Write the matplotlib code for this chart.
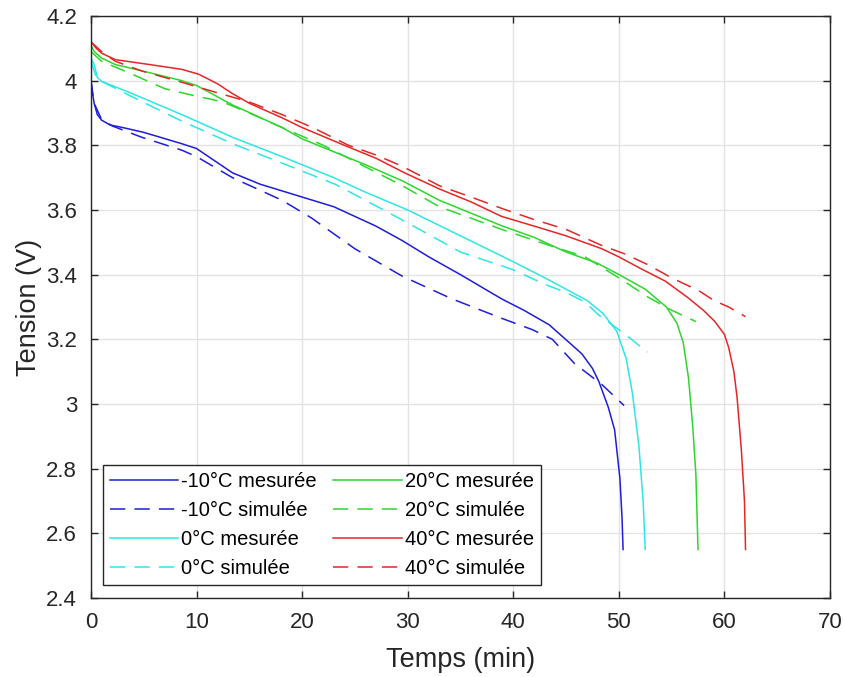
import matplotlib
matplotlib.use("Agg")
import matplotlib.pyplot as plt

plt.rcParams['font.family'] = ['Liberation Sans', 'DejaVu Sans']

# -10°C
t_m10_mes = [0, 0.1, 0.3, 0.6, 1, 1.8, 3, 5, 8.6, 10, 13.4, 16, 18, 20, 23, 25, 27,
             29.5, 32, 35, 38.9, 41, 43.4, 45.3, 46.5, 47.5, 48.1, 49, 49.6, 50.1, 50.3, 50.4]
v_m10_mes = [4.0, 3.97, 3.93, 3.895, 3.878, 3.863, 3.855, 3.84, 3.805, 3.79, 3.715, 3.68, 3.66,
             3.64, 3.61, 3.58, 3.55, 3.505, 3.455, 3.40, 3.325, 3.29, 3.245, 3.19, 3.155,
             3.11, 3.07, 2.99, 2.92, 2.77, 2.65, 2.55]
t_m10_sim = [0, 0.3, 1, 2, 4.8, 8.6, 10, 13.4, 18.1, 20.9, 25, 29.5, 34.2, 38.9, 41.8,
             43.7, 45.8, 48.4, 50.5]
v_m10_sim = [4.0, 3.93, 3.88, 3.86, 3.825, 3.785, 3.765, 3.70, 3.63, 3.575, 3.48, 3.395,
             3.325, 3.265, 3.23, 3.20, 3.125, 3.06, 2.995]

# 0°C
t_0_mes = [0, 0.3, 0.6, 1, 3.9, 8.6, 13.4, 18.1, 20, 23, 26, 30, 35, 40, 43, 45, 47, 48.5,
           49.8, 50.7, 51.3, 51.9, 52.3, 52.5]
v_0_mes = [4.07, 4.05, 4.01, 3.998, 3.96, 3.895, 3.825, 3.765, 3.74, 3.70, 3.655, 3.60, 3.52,
           3.44, 3.39, 3.355, 3.32, 3.28, 3.225, 3.14, 3.03, 2.87, 2.70, 2.55]
t_0_sim = [0, 0.5, 1, 3.9, 8.6, 13.4, 18.1, 23.1, 26, 30, 35, 40, 43, 45, 46.8, 48.1, 50,
           51.2, 52.7]
v_0_sim = [4.06, 4.01, 3.998, 3.95, 3.875, 3.805, 3.745, 3.68, 3.63, 3.56, 3.47, 3.415, 3.37,
           3.345, 3.315, 3.275, 3.23, 3.20, 3.16]

# 20°C
t_20_mes = [0, 0.3, 1, 2.3, 5.5, 8.6, 10, 13.4, 18.1, 20, 23, 26, 29.5, 33, 36, 39, 42, 45,
            48, 50.3, 52.5, 54.5, 55.5, 56.1, 56.6, 57.0, 57.3, 57.5]
v_20_mes = [4.11, 4.09, 4.07, 4.05, 4.025, 4.0, 3.985, 3.925, 3.855, 3.82, 3.78, 3.74, 3.69,
            3.63, 3.59, 3.55, 3.515, 3.47, 3.435, 3.395, 3.355, 3.30, 3.25, 3.19, 3.08,
            2.93, 2.78, 2.55]
t_20_sim = [0, 1, 3.9, 7, 9.6, 12.4, 15, 18.1, 22, 25, 29.5, 33, 38.9, 43, 46.8, 50, 52.8,
            55, 57.3]
v_20_sim = [4.09, 4.06, 4.02, 3.975, 3.955, 3.935, 3.90, 3.855, 3.80, 3.75, 3.675, 3.61,
            3.54, 3.495, 3.455, 3.39, 3.33, 3.29, 3.255]

# 40°C
t_40_mes = [0, 0.5, 1, 2.3, 5.5, 8.6, 10.2, 12, 13.4, 15, 18.1, 20, 24, 27, 29.7, 33, 36,
            38.9, 42, 45, 48.4, 50, 52, 54.4, 56.5, 58, 59.1, 60, 60.4, 60.9, 61.2, 61.6,
            61.9, 62.0]
v_40_mes = [4.12, 4.10, 4.085, 4.065, 4.05, 4.035, 4.02, 3.99, 3.96, 3.93, 3.885, 3.855,
            3.80, 3.76, 3.715, 3.665, 3.625, 3.58, 3.55, 3.52, 3.48, 3.455, 3.42, 3.38,
            3.33, 3.29, 3.255, 3.215, 3.175, 3.10, 3.02, 2.86, 2.70, 2.55]
t_40_sim = [0, 1, 2.3, 4.8, 8.6, 11.7, 14.9, 18.1, 21, 24.4, 27, 29.5, 33, 36, 38.9, 42,
            45, 48.4, 50.5, 52.8, 55, 57.6, 59, 60.4, 62]
v_40_sim = [4.12, 4.09, 4.06, 4.03, 3.995, 3.965, 3.935, 3.895, 3.855, 3.80, 3.77, 3.735,
            3.675, 3.64, 3.605, 3.57, 3.54, 3.49, 3.465, 3.43, 3.39, 3.35, 3.32, 3.30, 3.27]

labels = ['-10°C mesurée', '-10°C simulée', '0°C mesurée', '0°C simulée',
          '20°C mesurée', '20°C simulée', '40°C mesurée', '40°C simulée']
colors = ['#1e1ed8', '#1e1ed8', '#2ee6e6', '#2ee6e6', '#2ed62e', '#2ed62e', '#e62626', '#e62626']

series = [(t_m10_mes, v_m10_mes), (t_m10_sim, v_m10_sim), (t_0_mes, v_0_mes), (t_0_sim, v_0_sim),
          (t_20_mes, v_20_mes), (t_20_sim, v_20_sim), (t_40_mes, v_40_mes), (t_40_sim, v_40_sim)]

fig = plt.figure(figsize=(8.44, 6.77), dpi=100)
ax = fig.add_axes([0.1078, 0.1167, 0.8756, 0.8597])

for i, ((t, v), lab, col) in enumerate(zip(series, labels, colors)):
    if i % 2 == 0:
        ax.plot(t, v, color=col, lw=1.1, label=lab)
    else:
        ax.plot(t, v, color=col, lw=1.1, linestyle=(0, (10, 6)), label=lab)

ax.set_xlim(0, 70)
ax.set_ylim(2.4, 4.2)
ax.set_xticks(range(0, 71, 10))
ax.set_yticks([2.4, 2.6, 2.8, 3.0, 3.2, 3.4, 3.6, 3.8, 4.0, 4.2])
ax.set_yticklabels(['2.4', '2.6', '2.8', '3', '3.2', '3.4', '3.6', '3.8', '4', '4.2'])
ax.grid(True, color='#e3e3e3', lw=1.0)
ax.set_axisbelow(True)
ax.tick_params(direction='in', top=True, right=True, length=5, width=1,
               colors='#262626', labelsize=16, pad=10)
for s in ax.spines.values():
    s.set_color('#262626')
    s.set_linewidth(1.0)

ax.set_xlabel('Temps (min)', fontsize=19.5, color='#262626', labelpad=10)
ax.set_ylabel('Tension (V)', fontsize=19.5, color='#262626', labelpad=3)

leg = ax.legend(ncol=2, loc='lower left', bbox_to_anchor=(0.016, 0.022), borderaxespad=0,
                fontsize=14.5, handlelength=3.4, handletextpad=0.15, columnspacing=0.8,
                labelspacing=0.5, fancybox=False, framealpha=1, edgecolor='#262626',
                borderpad=0.35)
leg.get_frame().set_linewidth(1.0)

fig.savefig('out.png', dpi=100)
